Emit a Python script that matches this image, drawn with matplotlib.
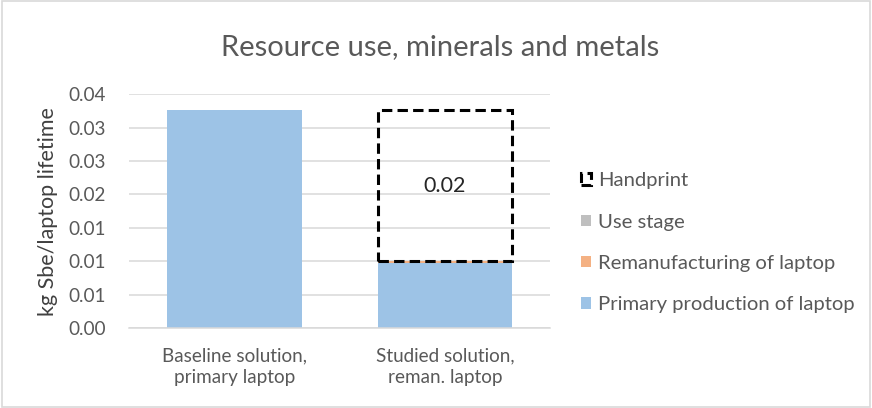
import matplotlib.pyplot as plt
import numpy as np
from matplotlib.patches import Patch, Rectangle

plt.rcParams["font.family"] = ["Lato", "DejaVu Sans"]

categories = ["Baseline solution,\nprimary laptop", "Studied solution,\nreman. laptop"]
primary = [0.0326, 0.0097]
reman = [0.0, 0.0003]
use_stage = [0.0, 0.0]
y_ticks = [0.0, 0.005, 0.01, 0.015, 0.02, 0.025, 0.03, 0.035]

blue = "#9DC3E6"
orange = "#F4B183"
grey = "#BFBFBF"
text_grey = "#595959"
grid_grey = "#D9D9D9"

fig = plt.figure(figsize=(8.72, 4.08), dpi=100)
ax = fig.add_axes([0.148, 0.196, 0.483, 0.573])

x = np.arange(len(categories))
width = 0.64
primary = np.array(primary)
reman = np.array(reman)
use_stage = np.array(use_stage)

ax.bar(x, primary, width, color=blue, zorder=2)
ax.bar(x, reman, width, bottom=primary, color=orange, zorder=2)
ax.bar(x, use_stage, width, bottom=primary + reman, color=grey, zorder=2)

# handprint: gap between baseline and studied totals, drawn on the studied bar
totals = primary + reman + use_stage
handprint = totals[0] - totals[1]
dash = (0, (3.4, 1.7))
ax.bar(x[1], handprint, width, bottom=totals[1], fill=False,
       edgecolor="black", linewidth=2.2, linestyle=dash, zorder=3)
ax.text(x[1], totals[1] + handprint / 2, f"{handprint:.2f}", ha="center",
        va="center", fontsize=15.5, color="#262626")

ax.set_xlim(-0.5, 1.5)
ax.set_ylim(0, 0.035)
ax.set_yticks(y_ticks)
ax.set_yticklabels([f"{v:.2f}" for v in y_ticks])
ax.set_xticks(x)
ax.set_xticklabels(categories, linespacing=1.3)
ax.tick_params(axis="both", length=0, colors=text_grey, labelsize=13.6)
ax.tick_params(axis="y", pad=17)
ax.tick_params(axis="x", pad=14)
ax.grid(axis="y", color=grid_grey, linewidth=1.1, zorder=0)
for side in ["top", "right", "left"]:
    ax.spines[side].set_visible(False)
ax.spines["bottom"].set_color(grid_grey)
ax.spines["bottom"].set_linewidth(1.1)

ax.set_ylabel("kg Sbe/laptop lifetime", fontsize=15.5, color="#404040")
ax.yaxis.set_label_coords(-0.168, 0.5)
fig.text(0.505, 0.885, "Resource use, minerals and metals", ha="center",
         va="center", fontsize=21, color=text_grey)

handles = [
    Patch(facecolor="none", edgecolor="black", linewidth=2.2, linestyle=dash),
    Patch(facecolor=grey),
    Patch(facecolor=orange),
    Patch(facecolor=blue),
]
labels = ["Handprint", "Use stage", "Remanufacturing of laptop",
          "Primary production of laptop"]
fig.legend(handles, labels, loc="center left", bbox_to_anchor=(0.655, 0.405),
           frameon=False, fontsize=14.6, labelcolor=text_grey,
           handlelength=0.48, handleheight=0.48, handletextpad=0.35,
           labelspacing=1.2, borderpad=0)

fig.patches.append(Rectangle((0.002, 0.002), 0.996, 0.996, transform=fig.transFigure,
                             fill=False, edgecolor=grid_grey, linewidth=1.2))

fig.savefig("out.png", dpi=100)
